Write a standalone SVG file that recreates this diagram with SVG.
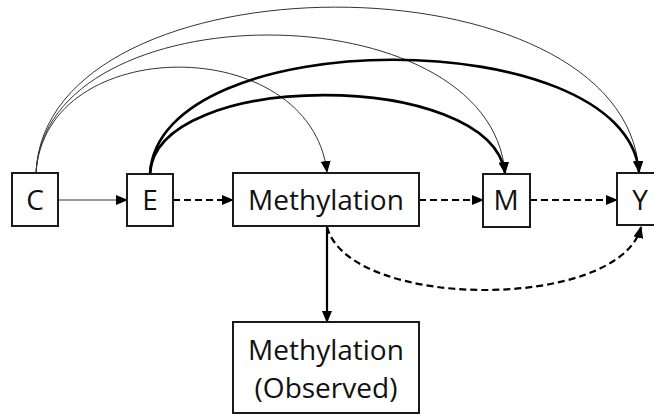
<svg xmlns="http://www.w3.org/2000/svg" width="654" height="415" viewBox="0 0 654 415">
<style>
.box{fill:#fff;stroke:#1a1a1a;stroke-width:2}
.lbl{font-family:"Open Sans","Liberation Sans",sans-serif;font-size:28px;fill:#111;text-anchor:middle}
.thin{fill:none;stroke:#333;stroke-width:1}
.thick{fill:none;stroke:#000;stroke-width:2.6}
.dash{fill:none;stroke:#000;stroke-width:2.2;stroke-dasharray:7,4}
.solid{fill:none;stroke:#000;stroke-width:2.2}
</style>
<defs>
<marker id="ah" markerUnits="userSpaceOnUse" markerWidth="12" markerHeight="10" refX="11" refY="5" orient="auto">
<path d="M0,0 L12,5 L0,10 Z" fill="#000"/>
</marker>
</defs>
<g id="connectors">
<path class="thin" d="M36,173 C45,32 310,32 327,172" marker-end="url(#ah)"/>
<path class="thin" d="M36,173 C45,-11 490,-11 505,173" marker-end="url(#ah)"/>
<path class="thin" d="M36,173 C45,-48 625,-48 639,172" marker-end="url(#ah)"/>
<path class="thick" d="M150,174 C155,69 490,69 505,173" marker-end="url(#ah)"/>
<path class="thick" d="M150,174 C158,22 625,22 639,172" marker-end="url(#ah)"/>
<path class="thin" d="M58,200 L127,200" marker-end="url(#ah)"/>
<path class="dash" d="M173,200 L233,200" marker-end="url(#ah)"/>
<path class="dash" d="M419,200 L483,200" marker-end="url(#ah)"/>
<path class="dash" d="M530,200 L617,200" marker-end="url(#ah)"/>
<path class="solid" d="M327,226 L327,322" marker-end="url(#ah)"/>
<path class="dash" d="M327,227 C350,311 620,311 641,227" marker-end="url(#ah)"/>
</g>
<g id="node-C"><rect class="box" x="12" y="173" width="46" height="53"/><text class="lbl" x="35" y="210">C</text></g>
<g id="node-E"><rect class="box" x="127" y="174" width="46" height="52"/><text class="lbl" x="150" y="210">E</text></g>
<g id="node-Methylation"><rect class="box" x="233" y="173" width="186" height="53"/><text class="lbl" x="326" y="210">Methylation</text></g>
<g id="node-M"><rect class="box" x="483" y="174" width="47" height="53"/><text class="lbl" x="506" y="210">M</text></g>
<g id="node-Y"><rect class="box" x="617" y="173" width="46" height="52"/><text class="lbl" x="640" y="210">Y</text></g>
<g id="node-Observed"><rect class="box" x="233" y="322" width="186" height="91"/><text class="lbl" x="326" y="360">Methylation</text><text class="lbl" x="326" y="398">(Observed)</text></g>
</svg>
